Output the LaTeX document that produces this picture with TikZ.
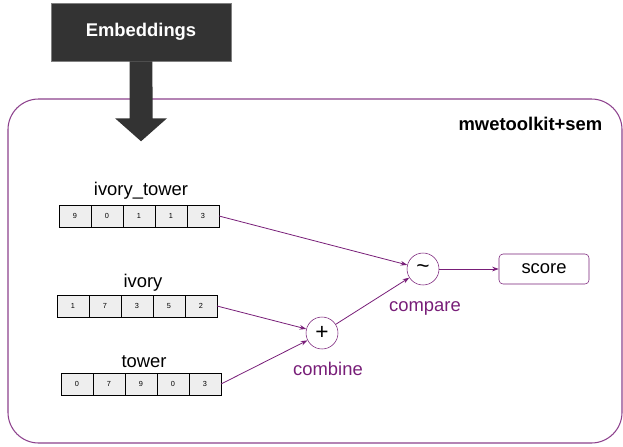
\documentclass[tikz,border=0pt]{standalone}
\usepackage{fontspec}
\setmainfont{Liberation Sans}
\usetikzlibrary{arrows.meta,positioning}
\definecolor{plum}{RGB}{120,30,120}
\definecolor{darkbox}{RGB}{51,51,51}
\definecolor{cellgray}{RGB}{238,238,238}

\begin{document}
\begin{tikzpicture}[x=0.75pt,y=0.75pt,yscale=-1,xscale=1,
  every node/.style={font=\fontsize{13.8}{16}\selectfont},
  cell/.style={draw=black, fill=cellgray, minimum width=24pt, minimum height=16.5pt, inner sep=0pt, outer sep=0pt, font=\fontsize{5.5}{6}\selectfont},
  op/.style={circle, draw=plum, fill=white, minimum size=24pt, inner sep=0pt, font=\fontsize{17}{18}\selectfont},
  link/.style={draw=plum, line width=0.6pt, -{Stealth[length=5pt,width=3.5pt]}},
  oplabel/.style={text=plum}]
\useasboundingbox (0,0) rectangle (623,446);

%Shape: Rounded Rect [container]
\draw [plum!85, line width=0.8pt, rounded corners=23pt] (8,99) rectangle (622,443);
% Text Node
\node [anchor=east, font=\bfseries\fontsize{13.8}{16}\selectfont] (tool) at (607,124) {mwetoolkit+sem};

%Shape: Rectangle [embeddings]
\node [fill=darkbox, draw=gray, text=white, font=\bfseries\fontsize{13.8}{16}\selectfont, minimum width=135pt, minimum height=43.5pt] (emb) at (141,32) {Embeddings};
%Shape: Block Arrow
\fill [darkbox] ([xshift=-8.6pt]emb.south) -- ++(0,57) -- ++(-14.5,0) -- ++(26,23) -- ++(26,-23) -- ++(-14.5,0) -- ([xshift=8.6pt]emb.south) -- cycle;

%Vectors
\foreach \v [count=\i] in {9,0,1,1,3}
  \node [cell] (it\i) at (43+32*\i,216) {\v};
\foreach \v [count=\i] in {1,7,3,5,2}
  \node [cell] (iv\i) at (41+32*\i,306) {\v};
\foreach \v [count=\i] in {0,7,9,0,3}
  \node [cell] (tw\i) at (45+32*\i,384) {\v};
% Text Node
\node (itlab) at (141,191) {ivory\_tower};
\node (ivlab) at (143,283) {ivory};
\node (twlab) at (144,362) {tower};

%Operations
\node [op] (cmp) at (423,269) {\textasciitilde};
\node [op] (cmb) at (322,333) {+};
\node [oplabel] (cmplab) at (425,308) {compare};
\node [oplabel] (cmblab) at (328,369) {combine};
\node [draw=plum, rounded corners=3pt, minimum width=67.5pt, minimum height=22.5pt] (score) at (544,269) {score};

%Straight Lines
\draw [link] (it5.east) -- (cmp);
\draw [link] (iv5.east) -- (cmb);
\draw [link] (tw5.east) -- (cmb);
\draw [link] (cmb) -- (cmp);
\draw [link] (cmp) -- (score);
\end{tikzpicture}
\end{document}
